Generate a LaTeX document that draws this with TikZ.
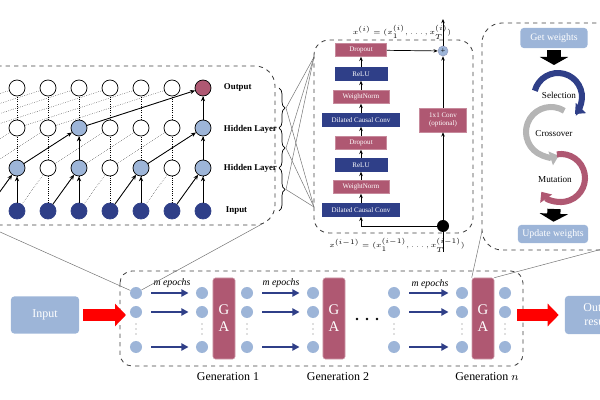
\documentclass[tikz,border=0pt]{standalone}
\usepackage{fontspec}
\setmainfont{Liberation Serif}
\usetikzlibrary{arrows.meta,decorations.pathreplacing}

\definecolor{lblue}{HTML}{9DB5D8}
\definecolor{dblue}{HTML}{2F3F88}
\definecolor{wine}{HTML}{AF5872}
\definecolor{arcgray}{HTML}{B5B5B5}

\tikzset{
  panel/.style={draw=black!75, dashed, line width=0.6pt},
  unit/.style={circle, draw=black, line width=0.5pt, minimum size=0.4cm, inner sep=0pt},
  vlink/.style={densely dotted, line width=0.55pt},
  dlink/.style={densely dotted, line width=0.3pt},
  hot/.style={line width=0.6pt, -{Stealth[length=3.5pt,width=3pt]}},
  layer/.style={anchor=west, font=\fontsize{6.3}{7}\selectfont\bfseries},
  winebox/.style={rectangle, fill=wine, draw=wine!70, text=white, minimum height=0.325cm, inner sep=0pt, font=\fontsize{5}{6}\selectfont},
  bluebox/.style={winebox, fill=dblue, draw=dblue},
  flow/.style={line width=0.5pt, -{Stealth[length=3pt,width=2.5pt]}},
  link/.style={draw=black!55, line width=0.35pt},
  softbox/.style={rectangle, rounded corners=0.08cm, fill=lblue, text=white, inner sep=0pt, align=center},
  bigdown/.style={line width=0.33cm, -{Triangle[width=20pt,length=5.7pt]}},
  gaarc/.style={line width=4.3pt, -{Triangle[width=10pt,length=6pt]}},
  gadot/.style={circle, fill=lblue, minimum size=0.3cm, inner sep=0pt},
  garect/.style={rectangle, rounded corners=0.06cm, fill=wine, draw=wine!60, minimum width=0.55cm, minimum height=2.025cm, text=white, align=center, font=\fontsize{10.5}{12}\selectfont},
  epoch/.style={draw=dblue, line width=1.5pt, -{Triangle[length=5pt,width=5pt]}, shorten <=0.22cm, shorten >=0.18cm},
  redarr/.style={draw=red, line width=0.3cm, -{Triangle[length=7.8pt,width=15.6pt]}},
  gen/.style={font=\fontsize{8.5}{10}\selectfont},
}

\begin{document}
\begin{tikzpicture}[x=0.025cm, y=-0.025cm]
  \useasboundingbox (0,0) rectangle (600,400);
  \clip (0,0) rectangle (600,400);

  % dilated TCN
  \draw[panel, rounded corners=0.5cm] (-40,66) rectangle (275,225);
  \foreach \c in {0,...,10}{
    \pgfmathtruncatemacro\ev{mod(\c,2)}
    \pgfmathtruncatemacro\qu{mod(\c,4)}
    \ifnum\ev=0 \def\fa{lblue}\else\def\fa{white}\fi
    \ifnum\qu=2 \def\fb{lblue}\else\def\fb{white}\fi
    \ifnum\c=10 \def\fo{wine}\else\def\fo{white}\fi
    \node[unit, fill=dblue, draw=dblue] (in\c) at ({17+31*(\c-4)},211) {};
    \node[unit, fill=\fa] (ha\c) at ({17+31*(\c-4)},168) {};
    \node[unit, fill=\fb] (hb\c) at ({17+31*(\c-4)},128) {};
    \node[unit, fill=\fo] (out\c) at ({17+31*(\c-4)},88) {};
  }
  \foreach \c in {1,...,10}{
    \pgfmathtruncatemacro\p{\c-1}
    \draw[vlink] (in\c) -- (ha\c);
    \draw[dlink] (in\p) -- (ha\c);
  }
  \foreach \c in {2,...,10}{
    \pgfmathtruncatemacro\p{\c-2}
    \draw[vlink] (ha\c) -- (hb\c);
    \draw[dlink] (ha\p) -- (hb\c);
  }
  \foreach \c in {4,...,10}{
    \pgfmathtruncatemacro\p{\c-4}
    \draw[vlink] (hb\c) -- (out\c);
    \draw[dlink] (hb\p) -- (out\c);
  }
  \foreach \a/\b in {in10/ha10, in9/ha10, in8/ha8, in7/ha8, in6/ha6, in5/ha6, in4/ha4, in3/ha4,
                     in2/ha2, in1/ha2, ha10/hb10, ha8/hb10, ha6/hb6, ha4/hb6, hb10/out10, hb6/out10}
    \draw[hot] (\a) -- (\b);
  \node[layer] (lo) at (219,88) {Output};
  \node[layer] (lh2) at (219,129) {Hidden Layer};
  \node[layer] (lh1) at (219,168) {Hidden Layer};
  \node[layer] (li) at (221,211) {Input};

  % braces to the residual block
  \foreach \ya/\yb [count=\k] in {88/128, 128/168, 168/211}{
    \draw[decorate, decoration={brace, amplitude=0.15cm}, line width=0.5pt] (279,\ya) -- (279,\yb);
    \coordinate (bt\k) at (286,{(\ya+\yb)/2});
  }
  \coordinate (rtl) at (314,57);
  \coordinate (rbl) at (314,207);
  \foreach \k in {1,2,3} \draw[link] (bt\k) -- (rtl) (bt\k) -- (rbl);

  % residual block
  \draw[panel, rounded corners=0.375cm] (314,40) rectangle (473,233);
  \node[winebox, minimum width=1.275cm] (dp2) at (361,50) {Dropout};
  \node[bluebox, minimum width=1.3cm] (rl2) at (361,74) {ReLU};
  \node[winebox, minimum width=1.4cm] (wn2) at (361,97) {WeightNorm};
  \node[bluebox, minimum width=1.925cm] (dc2) at (361,120) {Dilated Causal Conv};
  \node[winebox, minimum width=1.275cm] (dp1) at (361,143) {Dropout};
  \node[bluebox, minimum width=1.3cm] (rl1) at (361,165) {ReLU};
  \node[winebox, minimum width=1.4cm] (wn1) at (361,187) {WeightNorm};
  \node[bluebox, minimum width=1.925cm] (dc1) at (361,210) {Dilated Causal Conv};
  \foreach \a/\b in {dc1/wn1, wn1/rl1, rl1/dp1, dp1/dc2, dc2/wn2, wn2/rl2, rl2/dp2}
    \draw[flow] (\a) -- (\b);
  \node[winebox, minimum width=1.175cm, minimum height=0.6cm, align=center] (cv) at (443,120) {1x1 Conv\\(optional)};
  \node[circle, fill=lblue, draw=dblue!50, minimum size=0.25cm, inner sep=0pt, font=\fontsize{6}{6}\selectfont] (pl) at (443,51) {+};
  \node[circle, fill=black, minimum size=0.3cm, inner sep=0pt] (jn) at (443,226) {};
  \coordinate (rb) at (443,252);
  \coordinate (rt) at (443,19);
  \draw[line width=0.5pt] (rb) -- (jn);
  \draw[flow] (jn) -- (cv);
  \draw[flow] (cv) -- (pl);
  \draw[flow] (pl) -- (rt);
  \draw[flow] (jn) -| (dc1);
  \draw[flow] (dp2) -- (pl);
  \node[font=\fontsize{5}{6}\selectfont] (xo) at (402,32) {$x^{(i)}=(x_1^{(i)},\dots,x_T^{(i)})$};
  \node[font=\fontsize{5}{6}\selectfont] (xi) at (397,245) {$x^{(i-1)}=(x_1^{(i-1)},\dots,x_T^{(i-1)})$};

  % genetic algorithm
  \draw[panel, rounded corners=0.5cm] (482,23) rectangle (660,250);
  \node[softbox, minimum width=1.675cm, minimum height=0.5cm, font=\fontsize{7}{8}\selectfont] (gw) at (554,38) {Get weights};
  \node[softbox, minimum width=1.75cm, minimum height=0.45cm, font=\fontsize{7}{8}\selectfont] (uw) at (553,234) {Update weights};
  \coordinate (ar1) at (554,65);
  \coordinate (ar2) at (554,209);
  \draw[bigdown, shorten <=0.05cm] (gw) -- (ar1);
  \draw[bigdown, shorten >=0.075cm] (ar2) -- (uw);
  \draw[gaarc, draw=dblue] (558,97) ++(195:24) arc[start angle=195, end angle=405, radius=24];
  \draw[gaarc, draw=arcgray] (551,132) ++(-58:25) arc[start angle=-58, end angle=-288, radius=25];
  \draw[gaarc, draw=wine] (561,178) ++(-100:24) arc[start angle=-100, end angle=145, radius=24];
  \node[font=\fontsize{6.5}{7}\selectfont] (sel) at (559,95) {Selection};
  \node[font=\fontsize{6.5}{7}\selectfont] (cro) at (554,134) {Crossover};
  \node[font=\fontsize{6.5}{7}\selectfont] (mut) at (555,180) {Mutation};

  % generations
  \draw[panel, rounded corners=0.3cm] (120,271) rectangle (523,366);
  \node[softbox, minimum width=1.7cm, minimum height=0.925cm, font=\fontsize{8.5}{10}\selectfont] (inp) at (45,315) {Input};
  \node[softbox, minimum width=1.75cm, minimum height=0.95cm, font=\fontsize{8.5}{10}\selectfont] (res) at (600,315) {Output\\results};
  \foreach \x [count=\k] in {136,202,247,313,394,462,505}{
    \node[gadot] (t\k) at (\x,293) {};
    \node[gadot] (m\k) at (\x,312) {};
    \node[gadot] (b\k) at (\x,347) {};
    \foreach \yy in {324,329,334} \fill[black!55] (\x,\yy) circle (0.6);
  }
  \node[garect] (ga1) at (224,318.5) {G\\A};
  \node[garect] (ga2) at (334,318.5) {G\\A};
  \node[garect] (gan) at (483,318.5) {G\\A};
  \foreach \p/\q in {1/2, 3/4, 5/6}
    \foreach \r in {t,m,b}
      \draw[epoch] (\r\p) -- (\r\q);
  \node[font=\fontsize{7}{8}\selectfont\itshape] (me1) at (172,283) {m epochs};
  \node[font=\fontsize{7}{8}\selectfont\itshape] (me2) at (281,283) {m epochs};
  \node[font=\fontsize{7}{8}\selectfont\itshape] (me3) at (430,284) {m epochs};
  \foreach \xx in {357,367,377} \fill (\xx,319) circle (1.4);
  \node[gen] (gl1) at (228,377) {Generation 1};
  \node[gen] (gl2) at (338,377) {Generation 2};
  \node[gen] (gln) at (487,377) {Generation $n$};
  \coordinate (pin) at (126,315);
  \coordinate (pout) at (517,315);
  \draw[redarr, shorten <=0.1cm] (inp) -- (pin);
  \draw[redarr, shorten >=0.15cm] (pout) -- (res);

  % zoom lines
  \coordinate (tcnl) at (-20,223);
  \coordinate (tcnr) at (262,224);
  \coordinate (gapl) at (482,231);
  \coordinate (gapr) at (640,239);
  \draw[link] (t1) -- (tcnl);
  \draw[link] (t1) -- (tcnr);
  \draw[link] (gan.north west) -- (gapl);
  \draw[link] (gan.north east) -- (gapr);
\end{tikzpicture}
\end{document}
